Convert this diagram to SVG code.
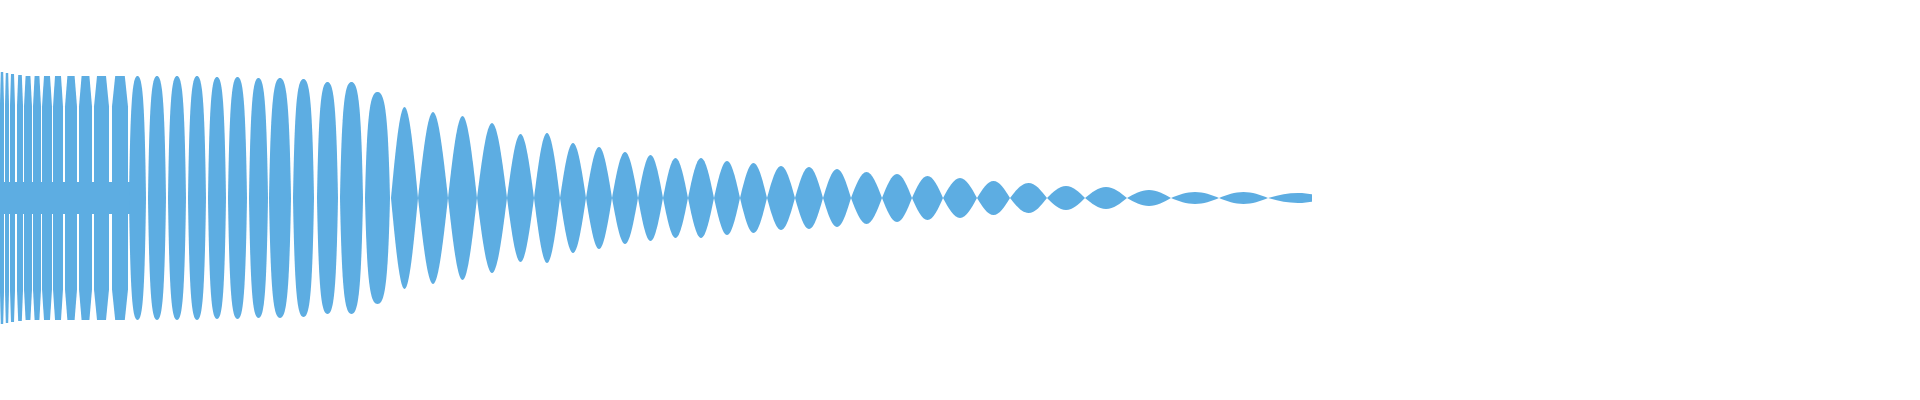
<svg xmlns="http://www.w3.org/2000/svg" xmlns:xlink="http://www.w3.org/1999/xlink" width="1920" height="400" viewBox="0 0 1920 400">
<style>.w{fill:#5dade2;stroke:none}</style>
<defs>
<path id="S" d="M0,0 C0.163,-0.512 0.319,-1 0.5,-1 C0.681,-1 0.837,-0.512 1,0 C0.837,0.512 0.681,1 0.5,1 C0.319,1 0.163,0.512 0,0Z"/>
<path id="R" d="M0,0 C0.08,-0.8 0.2,-1 0.5,-1 C0.8,-1 0.92,-0.8 1,0 C0.92,0.8 0.8,1 0.5,1 C0.2,1 0.08,0.8 0,0Z"/>
<path id="F" d="M0,0 L0,-0.75 L0.2,-1 L0.8,-1 L1,-0.75 L1,0.75 L0.8,1 L0.2,1 L0,0.75Z"/>
</defs>
<rect width="1920" height="400" fill="#fff"/>
<g id="wave" class="w">
<rect x="0" y="182" width="140" height="32"/>
<rect x="140" y="192" width="1172" height="12" transform="scale(1,1)" opacity="0"/>
<use href="#F" transform="translate(0,198) scale(4,126)"/>
<use href="#F" transform="translate(5,198) scale(4,125)"/>
<use href="#F" transform="translate(10,198) scale(5,124)"/>
<use href="#F" transform="translate(17,198) scale(6,123)"/>
<use href="#F" transform="translate(24,198) scale(8,122)"/>
<use href="#F" transform="translate(33,198) scale(8,122)"/>
<use href="#F" transform="translate(42,198) scale(10,122)"/>
<use href="#F" transform="translate(53,198) scale(10,122)"/>
<use href="#F" transform="translate(65,198) scale(12,122)"/>
<use href="#F" transform="translate(79,198) scale(13,122)"/>
<use href="#F" transform="translate(94,198) scale(15,122)"/>
<use href="#F" transform="translate(112,198) scale(16,122)"/>
<use href="#R" transform="translate(129,198) scale(17,122)"/>
<use href="#R" transform="translate(148,198) scale(18,122)"/>
<use href="#R" transform="translate(168,198) scale(18,122)"/>
<use href="#R" transform="translate(188,198) scale(18,122)"/>
<use href="#R" transform="translate(208,198) scale(18,121)"/>
<use href="#R" transform="translate(228,198) scale(19,121)"/>
<use href="#R" transform="translate(249,198) scale(19,120)"/>
<use href="#R" transform="translate(269,198) scale(22,120)"/>
<use href="#R" transform="translate(293,198) scale(21,119)"/>
<use href="#R" transform="translate(317,198) scale(21,116)"/>
<use href="#R" transform="translate(340,198) scale(23,116)"/>
<use href="#R" transform="translate(365,198) scale(25,106)"/>
<use href="#S" transform="translate(391,198) scale(27,91)"/>
<use href="#S" transform="translate(418,198) scale(30,86)"/>
<use href="#S" transform="translate(448,198) scale(29,82)"/>
<use href="#S" transform="translate(477,198) scale(30,75)"/>
<use href="#S" transform="translate(507,198) scale(27,64)"/>
<use href="#S" transform="translate(534,198) scale(26,65)"/>
<use href="#S" transform="translate(560,198) scale(26,55)"/>
<use href="#S" transform="translate(586,198) scale(26,51)"/>
<use href="#S" transform="translate(612,198) scale(26,46)"/>
<use href="#S" transform="translate(638,198) scale(25,43)"/>
<use href="#S" transform="translate(663,198) scale(25,40)"/>
<use href="#S" transform="translate(688,198) scale(26,40)"/>
<use href="#S" transform="translate(714,198) scale(26,37)"/>
<use href="#S" transform="translate(740,198) scale(27,35)"/>
<use href="#S" transform="translate(767,198) scale(28,32)"/>
<use href="#S" transform="translate(795,198) scale(28,31)"/>
<use href="#S" transform="translate(823,198) scale(28,29)"/>
<use href="#S" transform="translate(851,198) scale(31,26)"/>
<use href="#S" transform="translate(882,198) scale(30,24)"/>
<use href="#S" transform="translate(912,198) scale(31,22)"/>
<use href="#S" transform="translate(943,198) scale(34,20)"/>
<use href="#S" transform="translate(977,198) scale(33,17)"/>
<use href="#S" transform="translate(1010,198) scale(37,15)"/>
<use href="#S" transform="translate(1047,198) scale(38,12)"/>
<use href="#S" transform="translate(1085,198) scale(42,11)"/>
<use href="#S" transform="translate(1127,198) scale(44,8)"/>
<use href="#S" transform="translate(1171,198) scale(48,6)"/>
<use href="#S" transform="translate(1219,198) scale(49,6)"/>
<use href="#S" transform="translate(1268,198) scale(60,5)"/>
</g>
<rect x="1312" y="180" width="30" height="40" fill="#fff"/>
</svg>
